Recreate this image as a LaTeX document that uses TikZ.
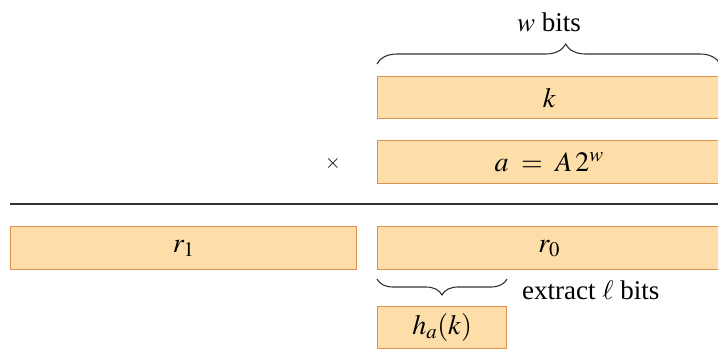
\documentclass[tikz,border=0pt]{standalone}
\usepackage{mathptmx}
\usepackage{fontspec}
\setmainfont{Liberation Serif}
\usetikzlibrary{decorations.pathreplacing}
\definecolor{boxfill}{RGB}{253,222,168}
\definecolor{boxline}{RGB}{218,148,80}
\tikzset{
  regbox/.style={draw=boxline, fill=boxfill, line width=1.4pt, inner sep=0pt, anchor=north west, font=\fontsize{28}{32}\selectfont},
  lbl/.style={font=\fontsize{27}{31}\selectfont, inner sep=0pt},
  brc/.style={decorate, line width=1.1pt, draw=black!80}
}
\begin{document}
\begin{tikzpicture}[x=1pt,y=-1pt]
\useasboundingbox (0,0) rectangle (718,349);
% top boxes
\node[regbox, minimum width=343pt, minimum height=42pt] (k) at (377,76) {$k$};
\node[regbox, minimum width=343pt, minimum height=43pt] (a) at (377,140) {$a \;=\; A\,2^{w}$};
\node[lbl, font=\fontsize{20}{22}\selectfont] (times) at (333,163) {$\times$};
% brace over k
\coordinate (tbl) at (377,64);
\coordinate (tbr) at (720,64);
\draw[brc, decoration={brace, amplitude=20pt, aspect=0.55}] (tbl) -- (tbr);
\node[lbl] (wbits) at (549,22) {$w$ bits};
% rule
\coordinate (rl) at (10,204);
\coordinate (rr) at (718,204);
\draw[line width=1.6pt, black!80] (rl) -- (rr);
% result boxes
\node[regbox, minimum width=346pt, minimum height=43pt] (r1) at (10,226) {$r_1$};
\node[regbox, minimum width=343pt, minimum height=43pt] (r0) at (377,226) {$r_0$};
% brace under r0
\coordinate (bbl) at (377,279);
\coordinate (bbr) at (507,279);
\draw[brc, decoration={brace, mirror, amplitude=16pt, aspect=0.5}] (bbl) -- (bbr);
\node[lbl, anchor=west] (extract) at (522,290) {extract $\ell$ bits};
% h_a(k)
\node[regbox, minimum width=129pt, minimum height=42pt] (h) at (377,306) {$h_a(k)$};
\end{tikzpicture}
\end{document}
